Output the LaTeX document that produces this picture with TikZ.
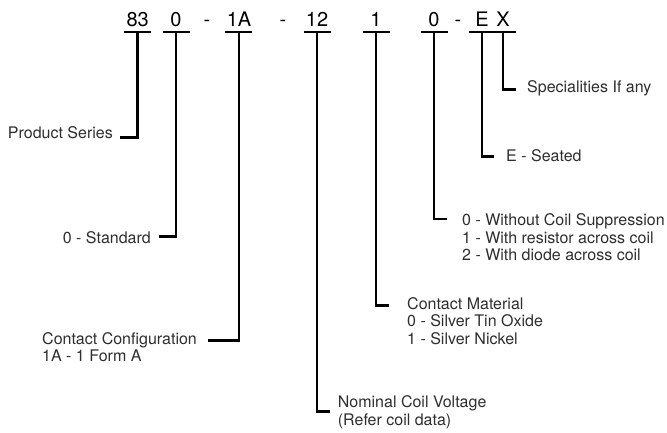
\documentclass[tikz,border=0pt]{standalone}
\usepackage{fontspec}
\setmainfont{TeX Gyre Heros}
\begin{document}
\begin{tikzpicture}[x=1pt,y=-1pt,
  code/.style={font=\fontsize{20}{24}\selectfont, anchor=base, inner sep=0pt},
  lbl/.style={font=\fontsize{16}{17.5}\selectfont, inner sep=0pt, text=black!82, align=left},
  bar/.style={line width=2.8pt},
  lead/.style={line width=2.8pt}]
\useasboundingbox (0,0) rectangle (667,433);
% code characters
\node[code] (c83) at (137.7,27) {83};
\node[code] (c0a) at (176,27) {0};
\node[code] (d1) at (207,27) {-};
\node[code] (c1A) at (239,27) {1A};
\node[code] (d2) at (283,27) {-};
\node[code] (c12) at (317,27) {12};
\node[code] (c1) at (376,27) {1};
\node[code] (c0b) at (434,27) {0};
\node[code] (d3) at (458,27) {-};
\node[code] (cE) at (482,27) {E};
\node[code] (cX) at (503,27) {X};
% bar centres
\coordinate (b83) at (137.7,32);
\coordinate (b0a) at (176,32);
\coordinate (b1A) at (239,32);
\coordinate (b12) at (317,32);
\coordinate (b1) at (376,32);
\coordinate (b0b) at (434,32);
\coordinate (bE) at (482,32);
\coordinate (bX) at (503,32);
\draw[bar] ([xshift=-13.5pt]b83) -- ([xshift=13.5pt]b83);
\draw[bar] ([xshift=-13.5pt]b0a) -- ([xshift=13.5pt]b0a);
\draw[bar] ([xshift=-14pt]b1A) -- ([xshift=13pt]b1A);
\draw[bar] ([xshift=-13.5pt]b12) -- ([xshift=13.5pt]b12);
\draw[bar] ([xshift=-13.5pt]b1) -- ([xshift=13.5pt]b1);
\draw[bar] ([xshift=-13.5pt]b0b) -- ([xshift=13.5pt]b0b);
\draw[bar] ([xshift=-13pt]bE) -- ([xshift=13pt]bX);
% lead ends
\coordinate (e83) at (120,137.7);
\coordinate (e0a) at (159,236.7);
\coordinate (e1A) at (208,340.7);
\coordinate (e12) at (330,411.7);
\coordinate (e1) at (389,305.7);
\coordinate (e0b) at (447,219);
\coordinate (eE) at (494,156.7);
\coordinate (eX) at (516,89.3);
\draw[lead] (b83) |- (e83);
\draw[lead] (b0a) |- (e0a);
\draw[lead] (b1A) |- (e1A);
\draw[lead] (b12) |- (e12);
\draw[lead] (b1) |- (e1);
\draw[lead] (b0b) |- (e0b);
\draw[lead] (bE) |- (eE);
\draw[lead] (bX) |- (eX);
% labels (base anchor = baseline of the last line)
\node[lbl, anchor=base east] (lPS) at (113,139) {Product Series};
\node[lbl, anchor=base east] (lSt) at (151,243.3) {0 - Standard};
\node[lbl, anchor=base west] (lCC) at (42,361.5) {Contact Configuration\\1A - 1 Form A};
\node[lbl, anchor=base west] (lNV) at (337.7,425.2) {Nominal Coil Voltage\\(Refer coil data)};
\node[lbl, anchor=base west] (lCM) at (407,344) {Contact Material\\0 - Silver Tin Oxide\\1 - Silver Nickel};
\node[lbl, anchor=base west] (lCS) at (462,260.7) {0 - Without Coil Suppression\\1 - With resistor across coil\\2 - With diode across coil};
\node[lbl, anchor=base west] (lSe) at (506,161.7) {E - Seated};
\node[lbl, anchor=base west] (lSp) at (527,93) {Specialities If any};
\end{tikzpicture}
\end{document}
